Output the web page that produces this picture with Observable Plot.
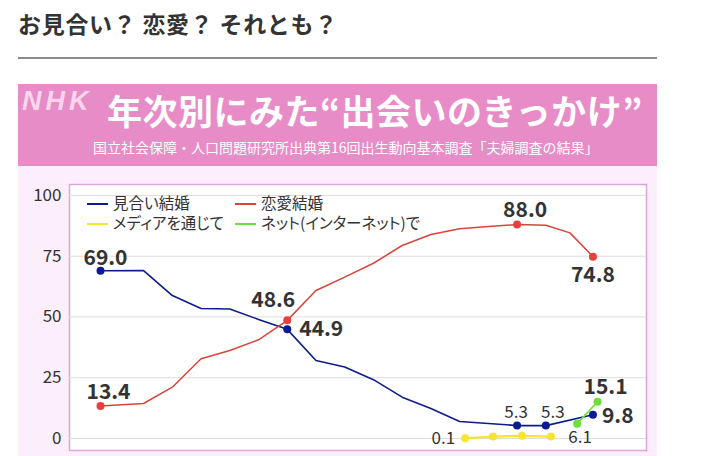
<!DOCTYPE html>
<html><head><meta charset="utf-8">
<script src="https://cdn.jsdelivr.net/npm/d3@7"></script>
<script src="https://cdn.jsdelivr.net/npm/@observablehq/plot@0.6"></script>
<style>
body{margin:0;background:#fff;font-family:"Noto Sans CJK JP",sans-serif;width:709px;height:456px;overflow:hidden;position:relative}
#h{position:absolute;left:18px;top:11px;font-size:23px;font-weight:bold;color:#333;line-height:24px;white-space:nowrap;letter-spacing:0.7px}
#rule{position:absolute;left:18px;top:57px;width:639px;height:2px;background:#8c8c8c}
#banner{position:absolute;left:18px;top:84px;width:639px;height:82px;background:#e88cc8}
#nhk{position:absolute;left:4px;top:3px;font:italic bold 27px "Liberation Sans",sans-serif;color:#f9d6ec;letter-spacing:4px;line-height:28px}
#title{position:absolute;left:89px;top:5px;font-size:35px;font-weight:bold;color:#fff;line-height:42px;white-space:nowrap;letter-spacing:0.5px}
#sub{position:absolute;left:75px;top:53px;font-size:14px;color:#fff;line-height:20px;white-space:nowrap}
#chart{position:absolute;left:18px;top:166px;width:639px;height:290px;background:#fdeefb}
.lg{position:absolute;font-size:15.5px;color:#333;line-height:18px;white-space:nowrap;font-feature-settings:"palt"}
.lg i{display:inline-block;width:21px;height:2px;vertical-align:middle;margin-right:5px;position:relative;top:-1px}
</style></head>
<body>
<div id="h">お見合い？ 恋愛？ それとも？</div>
<div id="rule"></div>
<div id="banner">
  <div id="nhk">NHK</div>
  <div id="title">年次別にみた“出会いのきっかけ”</div>
  <div id="sub">国立社会保障・人口問題研究所出典第16回出生動向基本調査「夫婦調査の結果」</div>
</div>
<div id="chart"></div>
<div id="legend"></div>
<script>
// time positions of the survey periods along the x axis
const t = [0, 1.5, 2.5, 3.5, 4.5, 5.5, 6.5, 7.5, 8.5, 9.5, 10.5, 11.5, 12.5, 13.5, 14.5, 15.5, 16.34, 17.14];
// 見合い結婚 (null = no point in that period)
const miai = [69.0, 69.1, 58.8, 53.5, 53.3, 49.0, 44.9, 32.1, 29.4, 24.2, 17.0, 12.3, 7.0, 6.2, 5.3, 5.3, null, 9.8];
// 恋愛結婚
const renai = [13.4, 14.4, 21.1, 32.8, 36.2, 40.6, 48.6, 60.9, 66.4, 72.1, 79.4, 83.9, 86.3, 87.2, 88.0, 87.7, 84.6, 74.8];
// メディアを通じて
const mediaT = [12.69, 13.66, 14.67, 15.68];
const media = [0.1, 0.8, 1.1, 0.8];
// ネット(インターネット)で
const netT = [16.59, 17.3];
const net = [6.1, 15.1];
const yTicks = [0, 25, 50, 75, 100];
const seriesNames = ["見合い結婚", "恋愛結婚", "メディアを通じて", "ネット(インターネット)で"];
const colors = {"見合い結婚": "#0c1c8a", "恋愛結婚": "#d8453b", "メディアを通じて": "#f7e331", "ネット(インターネット)で": "#6ddf3c"};
const dotColors = {"見合い結婚": "#0a1a90", "恋愛結婚": "#e8403e", "メディアを通じて": "#f7e331", "ネット(インターネット)で": "#6ddf3c"};

const mk = (xs, ys, name) => xs.map((x, i) => ({t: x, v: ys[i], s: name, i})).filter(d => d.v != null);
const dMiai = mk(t, miai, seriesNames[0]);
const dRenai = mk(t, renai, seriesNames[1]);
const dMedia = mk(mediaT, media, seriesNames[2]);
const dNet = mk(netT, net, seriesNames[3]);
const bySeries = {[seriesNames[0]]: dMiai, [seriesNames[1]]: dRenai, [seriesNames[2]]: dMedia, [seriesNames[3]]: dNet};

// value labels: series, index in series arrays, bold, anchor, offsets
const labels = [
  {s: seriesNames[0], i: 0, b: true, a: "middle", dx: 5, dy: -13},
  {s: seriesNames[1], i: 0, b: true, a: "middle", dx: 8, dy: -14},
  {s: seriesNames[1], i: 6, b: true, a: "middle", dx: -14, dy: -20},
  {s: seriesNames[0], i: 6, b: true, a: "start", dx: 12, dy: 0},
  {s: seriesNames[1], i: 14, b: true, a: "middle", dx: 8, dy: -14},
  {s: seriesNames[1], i: 17, b: true, a: "middle", dx: 0, dy: 19},
  {s: seriesNames[3], i: 1, b: true, a: "middle", dx: 8, dy: -15},
  {s: seriesNames[0], i: 17, b: true, a: "start", dx: 9, dy: 2},
  {s: seriesNames[0], i: 14, b: false, a: "middle", dx: -1, dy: -13},
  {s: seriesNames[0], i: 15, b: false, a: "middle", dx: 7, dy: -13},
  {s: seriesNames[2], i: 0, b: false, a: "end", dx: -10, dy: 0},
  {s: seriesNames[3], i: 0, b: false, a: "middle", dx: 3, dy: 14}
];
const pt = l => bySeries[l.s].find(d => d.i === l.i);
const dotPts = [...labels.filter(l => l.s !== seriesNames[2]).map(pt), ...dMedia];

const font = '"Noto Sans CJK JP", sans-serif';
const chart = Plot.plot({
  width: 639, height: 290,
  marginLeft: 51, marginRight: 11, marginTop: 18, marginBottom: 6,
  x: {domain: [-1.079, 19.004], axis: null},
  y: {domain: [-4.94, 104.5], axis: null},
  style: {background: "transparent", fontFamily: font, color: "#333", overflow: "visible"},
  marks: [
    Plot.frame({fill: "white", stroke: "#dca6da", strokeWidth: 1.5}),
    Plot.ruleY(yTicks, {stroke: "#dddddd", strokeWidth: 1}),
    Plot.axisY({ticks: yTicks, tickSize: 0, tickPadding: 8, fontSize: 17, fill: "#333", label: null}),
    Plot.line(dMedia, {x: "t", y: "v", stroke: colors[seriesNames[2]], strokeWidth: 2.2}),
    Plot.line(dMiai, {x: "t", y: "v", stroke: colors[seriesNames[0]], strokeWidth: 1.6}),
    Plot.line(dRenai, {x: "t", y: "v", stroke: colors[seriesNames[1]], strokeWidth: 1.5}),
    Plot.line(dNet, {x: "t", y: "v", stroke: colors[seriesNames[3]], strokeWidth: 1.6}),
    Plot.dot(dotPts, {x: "t", y: "v", r: 4, fill: d => dotColors[d.s], stroke: "none"}),
    ...labels.map(l => Plot.text([pt(l)], {
      x: "t", y: "v", text: d => d.v.toFixed(1),
      dx: l.dx, dy: l.dy, textAnchor: l.a,
      fontSize: l.b ? 21 : 17, fontWeight: l.b ? "bold" : "normal",
      fill: "#333", fontFamily: font
    }))
  ]
});
document.getElementById("chart").appendChild(chart);

// legend (two rows, two columns)
const lgPos = [[87, 193], [235, 193], [87, 213], [235, 213]];
const lg = document.getElementById("legend");
seriesNames.forEach((n, k) => {
  const div = document.createElement("div");
  div.className = "lg";
  div.style.left = lgPos[k][0] + "px";
  div.style.top = lgPos[k][1] + "px";
  const sw = document.createElement("i");
  sw.style.background = colors[n];
  div.appendChild(sw);
  div.appendChild(document.createTextNode(n));
  lg.appendChild(div);
});
</script>
</body></html>
